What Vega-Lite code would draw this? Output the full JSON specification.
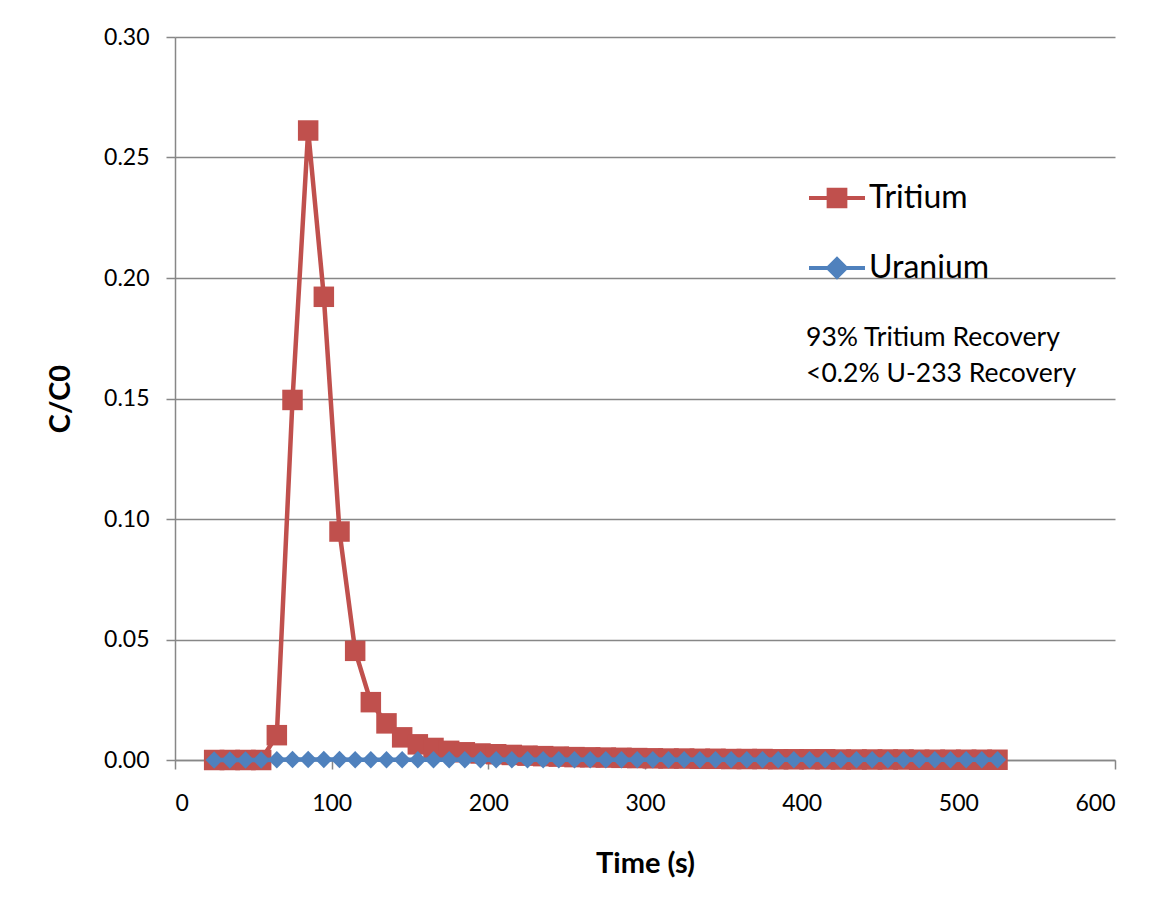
{
  "$schema": "https://vega.github.io/schema/vega-lite/v6.json",
  "autosize": "none",
  "padding": {"left": 175, "top": 37, "right": 50, "bottom": 149},
  "width": 940,
  "height": 723,
  "background": "white",
  "config": {
    "font": "Lato",
    "view": {"stroke": null},
    "axis": {
      "labelFont": "Lato",
      "labelFontSize": 23,
      "labelColor": "#000000",
      "titleFont": "Lato",
      "titleFontWeight": "bold",
      "titleFontSize": 29,
      "titleColor": "#000000",
      "domainColor": "#878787",
      "domainWidth": 1.5,
      "tickColor": "#878787",
      "tickWidth": 1.5,
      "tickSize": 9,
      "gridColor": "#878787",
      "gridWidth": 1.5
    }
  },
  "data": {
    "values": [
      {"t": 25, "c": 0, "series": "Tritium"},
      {"t": 35, "c": 0, "series": "Tritium"},
      {"t": 45, "c": 0, "series": "Tritium"},
      {"t": 55, "c": 0, "series": "Tritium"},
      {"t": 65, "c": 0.0103, "series": "Tritium"},
      {"t": 75, "c": 0.1494, "series": "Tritium"},
      {"t": 85, "c": 0.2612, "series": "Tritium"},
      {"t": 95, "c": 0.1922, "series": "Tritium"},
      {"t": 105, "c": 0.0948, "series": "Tritium"},
      {"t": 115, "c": 0.0453, "series": "Tritium"},
      {"t": 125, "c": 0.024, "series": "Tritium"},
      {"t": 135, "c": 0.0152, "series": "Tritium"},
      {"t": 145, "c": 0.0094, "series": "Tritium"},
      {"t": 155, "c": 0.0065, "series": "Tritium"},
      {"t": 165, "c": 0.005, "series": "Tritium"},
      {"t": 175, "c": 0.0038, "series": "Tritium"},
      {"t": 185, "c": 0.0032, "series": "Tritium"},
      {"t": 195, "c": 0.0027, "series": "Tritium"},
      {"t": 205, "c": 0.0024, "series": "Tritium"},
      {"t": 215, "c": 0.0021, "series": "Tritium"},
      {"t": 225, "c": 0.0018, "series": "Tritium"},
      {"t": 235, "c": 0.0016, "series": "Tritium"},
      {"t": 245, "c": 0.0014, "series": "Tritium"},
      {"t": 255, "c": 0.0012, "series": "Tritium"},
      {"t": 265, "c": 0.0011, "series": "Tritium"},
      {"t": 275, "c": 0.001, "series": "Tritium"},
      {"t": 285, "c": 0.0009, "series": "Tritium"},
      {"t": 295, "c": 0.0008, "series": "Tritium"},
      {"t": 305, "c": 0.0007, "series": "Tritium"},
      {"t": 315, "c": 0.0006, "series": "Tritium"},
      {"t": 325, "c": 0.0006, "series": "Tritium"},
      {"t": 335, "c": 0.0005, "series": "Tritium"},
      {"t": 345, "c": 0.0005, "series": "Tritium"},
      {"t": 355, "c": 0.0004, "series": "Tritium"},
      {"t": 365, "c": 0.0004, "series": "Tritium"},
      {"t": 375, "c": 0.0004, "series": "Tritium"},
      {"t": 385, "c": 0.0003, "series": "Tritium"},
      {"t": 395, "c": 0.0003, "series": "Tritium"},
      {"t": 405, "c": 0.0003, "series": "Tritium"},
      {"t": 415, "c": 0.0003, "series": "Tritium"},
      {"t": 425, "c": 0.0002, "series": "Tritium"},
      {"t": 435, "c": 0.0002, "series": "Tritium"},
      {"t": 445, "c": 0.0002, "series": "Tritium"},
      {"t": 455, "c": 0.0002, "series": "Tritium"},
      {"t": 465, "c": 0.0002, "series": "Tritium"},
      {"t": 475, "c": 0.0001, "series": "Tritium"},
      {"t": 485, "c": 0.0001, "series": "Tritium"},
      {"t": 495, "c": 0.0001, "series": "Tritium"},
      {"t": 505, "c": 0.0001, "series": "Tritium"},
      {"t": 515, "c": 0.0001, "series": "Tritium"},
      {"t": 525, "c": 0.0001, "series": "Tritium"},
      {"t": 25, "c": 0, "series": "Uranium"},
      {"t": 35, "c": 0, "series": "Uranium"},
      {"t": 45, "c": 0, "series": "Uranium"},
      {"t": 55, "c": 0, "series": "Uranium"},
      {"t": 65, "c": 0.0001, "series": "Uranium"},
      {"t": 75, "c": 0.0002, "series": "Uranium"},
      {"t": 85, "c": 0.0002, "series": "Uranium"},
      {"t": 95, "c": 0.0002, "series": "Uranium"},
      {"t": 105, "c": 0.0002, "series": "Uranium"},
      {"t": 115, "c": 0.0001, "series": "Uranium"},
      {"t": 125, "c": 0.0001, "series": "Uranium"},
      {"t": 135, "c": 0.0001, "series": "Uranium"},
      {"t": 145, "c": 0.0001, "series": "Uranium"},
      {"t": 155, "c": 0.0001, "series": "Uranium"},
      {"t": 165, "c": 0.0001, "series": "Uranium"},
      {"t": 175, "c": 0.0001, "series": "Uranium"},
      {"t": 185, "c": 0.0001, "series": "Uranium"},
      {"t": 195, "c": 0.0001, "series": "Uranium"},
      {"t": 205, "c": 0.0001, "series": "Uranium"},
      {"t": 215, "c": 0.0001, "series": "Uranium"},
      {"t": 225, "c": 0.0001, "series": "Uranium"},
      {"t": 235, "c": 0.0001, "series": "Uranium"},
      {"t": 245, "c": 0.0001, "series": "Uranium"},
      {"t": 255, "c": 0.0001, "series": "Uranium"},
      {"t": 265, "c": 0.0001, "series": "Uranium"},
      {"t": 275, "c": 0.0001, "series": "Uranium"},
      {"t": 285, "c": 0.0001, "series": "Uranium"},
      {"t": 295, "c": 0.0001, "series": "Uranium"},
      {"t": 305, "c": 0.0001, "series": "Uranium"},
      {"t": 315, "c": 0.0001, "series": "Uranium"},
      {"t": 325, "c": 0.0001, "series": "Uranium"},
      {"t": 335, "c": 0.0001, "series": "Uranium"},
      {"t": 345, "c": 0.0001, "series": "Uranium"},
      {"t": 355, "c": 0.0001, "series": "Uranium"},
      {"t": 365, "c": 0.0001, "series": "Uranium"},
      {"t": 375, "c": 0.0001, "series": "Uranium"},
      {"t": 385, "c": 0.0001, "series": "Uranium"},
      {"t": 395, "c": 0.0001, "series": "Uranium"},
      {"t": 405, "c": 0.0001, "series": "Uranium"},
      {"t": 415, "c": 0.0001, "series": "Uranium"},
      {"t": 425, "c": 0.0001, "series": "Uranium"},
      {"t": 435, "c": 0.0001, "series": "Uranium"},
      {"t": 445, "c": 0.0001, "series": "Uranium"},
      {"t": 455, "c": 0.0001, "series": "Uranium"},
      {"t": 465, "c": 0.0001, "series": "Uranium"},
      {"t": 475, "c": 0.0001, "series": "Uranium"},
      {"t": 485, "c": 0.0001, "series": "Uranium"},
      {"t": 495, "c": 0.0001, "series": "Uranium"},
      {"t": 505, "c": 0.0001, "series": "Uranium"},
      {"t": 515, "c": 0.0001, "series": "Uranium"},
      {"t": 525, "c": 0.0001, "series": "Uranium"}
    ]
  },
  "layer": [
    {
      "transform": [{"filter": "datum.series == 'Tritium'"}],
      "mark": {"type": "line", "strokeWidth": 4.5, "interpolate": "linear"},
      "encoding": {
        "x": {
          "field": "t",
          "type": "quantitative",
          "title": "Time (s)",
          "scale": {"domain": [0, 600], "nice": false, "zero": false},
          "axis": {"values": [0, 100, 200, 300, 400, 500, 600], "grid": false, "labelPadding": 23, "titlePadding": 34}
        },
        "y": {
          "field": "c",
          "type": "quantitative",
          "title": "C/C0",
          "scale": {"domain": [0, 0.3], "nice": false},
          "axis": {"values": [0, 0.05, 0.1, 0.15, 0.2, 0.25, 0.3], "format": ".2f", "grid": true, "labelPadding": 17, "titlePadding": 28}
        },
        "color": {
          "field": "series",
          "type": "nominal",
          "scale": {"domain": ["Tritium", "Uranium"], "range": ["#C0504D", "#4F81BD"]},
          "legend": {
            "title": null,
            "orient": "none",
            "legendX": 634,
            "legendY": 133,
            "padding": 0,
            "rowPadding": 26,
            "symbolSize": 3136,
            "symbolOffset": 0,
            "labelOffset": 4,
            "labelFont": "Lato",
            "labelFontSize": 32,
            "labelColor": "#000000",
            "labelLimit": 400,
            "encode": {
              "symbols": {
                "update": {
                  "shape": {"signal": "datum.value == 'Tritium' ? 'M-1,-0.075H1V0.075H-1Z M-0.37,-0.37H0.37V0.37H-0.37Z' : 'M-1,-0.075H1V0.075H-1Z M0,-0.42L0.42,0L0,0.42L-0.42,0Z'"},
                  "fill": {"signal": "datum.value == 'Tritium' ? '#C0504D' : '#4F81BD'"},
                  "stroke": {"value": "transparent"},
                  "strokeWidth": {"value": 0},
                  "opacity": {"value": 1},
                  "fillOpacity": {"value": 1}
                }
              }
            }
          }
        }
      }
    },
    {
      "transform": [{"filter": "datum.series == 'Tritium'"}],
      "mark": {"type": "point", "shape": "square", "filled": true, "size": 420, "opacity": 1},
      "encoding": {
        "x": {"field": "t", "type": "quantitative"},
        "y": {"field": "c", "type": "quantitative"},
        "color": {"field": "series", "type": "nominal"}
      }
    },
    {
      "transform": [{"filter": "datum.series == 'Uranium'"}],
      "mark": {"type": "line", "strokeWidth": 4.5, "interpolate": "linear"},
      "encoding": {
        "x": {"field": "t", "type": "quantitative"},
        "y": {"field": "c", "type": "quantitative"},
        "color": {"field": "series", "type": "nominal"}
      }
    },
    {
      "transform": [{"filter": "datum.series == 'Uranium'"}],
      "mark": {"type": "point", "shape": "diamond", "filled": true, "size": 300, "opacity": 1},
      "encoding": {
        "x": {"field": "t", "type": "quantitative"},
        "y": {"field": "c", "type": "quantitative"},
        "color": {"field": "series", "type": "nominal"}
      }
    },
    {
      "data": {"values": [{"note": "recovery"}]},
      "mark": {"type": "text", "align": "left", "baseline": "top", "font": "Lato", "fontSize": 26.5, "lineHeight": 36, "fill": "#000000", "strokeWidth": 0},
      "encoding": {
        "x": {"datum": 402.8, "type": "quantitative"},
        "y": {"datum": 0.1805, "type": "quantitative"},
        "text": {"value": ["93% Tritium Recovery", "<0.2% U-233 Recovery"]}
      }
    }
  ]
}
